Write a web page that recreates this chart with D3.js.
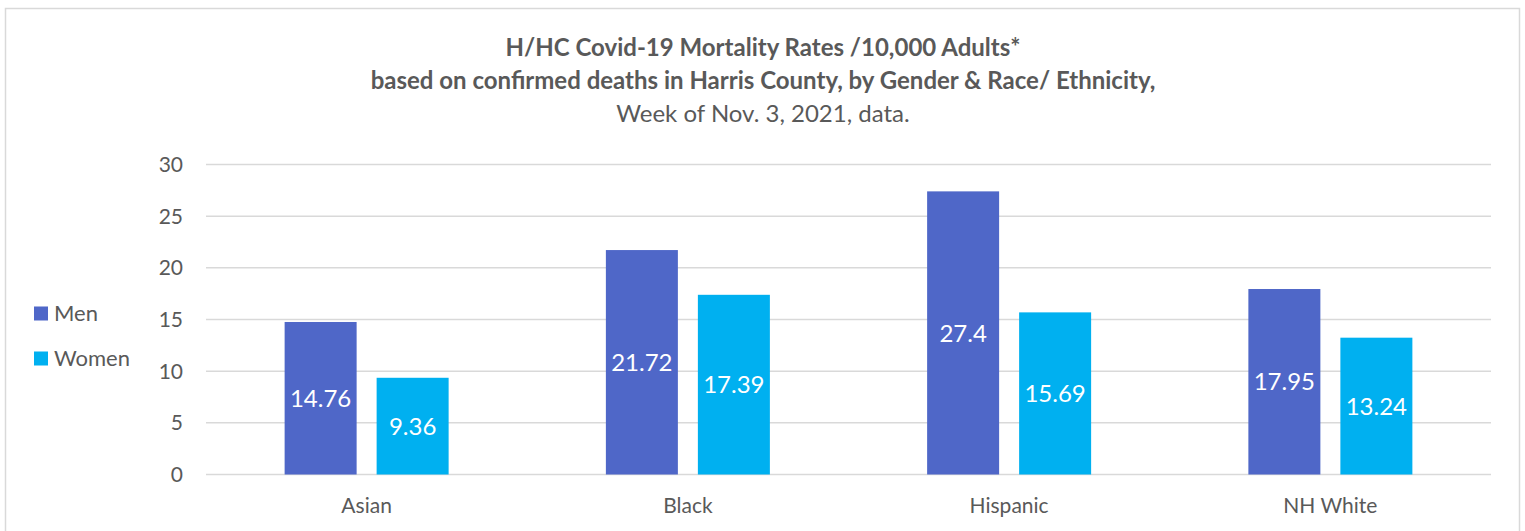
<!DOCTYPE html>
<html><head><meta charset="utf-8">
<script src="https://cdn.jsdelivr.net/npm/d3@7"></script>
<style>body{margin:0;background:#fff}svg{display:block}</style>
</head><body>
<script>
const categories = ["Asian", "Black", "Hispanic", "NH White"];
const seriesNames = ["Men", "Women"];
const men = [14.76, 21.72, 27.4, 17.95];
const women = [9.36, 17.39, 15.69, 13.24];
const yTicks = [0, 5, 10, 15, 20, 25, 30];
const titleLines = ["H/HC Covid-19 Mortality Rates /10,000 Adults*",
  "based on confirmed deaths in Harris County, by Gender & Race/ Ethnicity,",
  "Week of Nov. 3, 2021, data."];
const colors = ["#4F67C8", "#00B0F0"];
const series = [men, women];

const W = 1525, H = 531;
const font = "Lato, 'Open Sans', sans-serif";
const svg = d3.select("body").append("svg").attr("width", W).attr("height", H);

svg.append("rect").attr("x", 5.5).attr("y", 8.5).attr("width", 1514).attr("height", 540)
  .attr("fill", "#fff").attr("stroke", "#d9d9d9").attr("stroke-width", 1.5);

const x0 = d3.scaleBand().domain(categories).range([206, 1491]);
const y = d3.scaleLinear().domain([0, 30]).range([474.5, 164.5]);
const bw = 72, gap = 20;

// gridlines
svg.append("g").selectAll("line").data(yTicks).join("line")
  .attr("x1", 206).attr("x2", 1491)
  .attr("y1", d => y(d)).attr("y2", d => y(d))
  .attr("stroke", "#d9d9d9").attr("stroke-width", 1.5);

// y labels
svg.append("g").selectAll("text").data(yTicks).join("text")
  .attr("x", 183).attr("y", d => y(d)).attr("dy", "0.35em")
  .attr("text-anchor", "end").attr("font-family", font).attr("font-size", 21)
  .attr("fill", "#595959").text(d => d);

// bars
series.forEach((vals, si) => {
  const g = svg.append("g");
  const xpos = (c) => x0(c) + x0.bandwidth() / 2 + (si === 0 ? -(gap / 2 + bw) : gap / 2);
  g.selectAll("rect").data(categories).join("rect")
    .attr("x", c => xpos(c)).attr("width", bw)
    .attr("y", (c, i) => y(vals[i])).attr("height", (c, i) => y(0) - y(vals[i]))
    .attr("fill", colors[si]);
  g.selectAll("text").data(categories).join("text")
    .attr("x", c => xpos(c) + bw / 2)
    .attr("y", (c, i) => (y(vals[i]) + y(0)) / 2).attr("dy", "0.36em")
    .attr("text-anchor", "middle").attr("font-family", font).attr("font-size", 24)
    .attr("fill", "#fff").text((c, i) => vals[i]);
});

// category labels
svg.append("g").selectAll("text").data(categories).join("text")
  .attr("x", c => x0(c) + x0.bandwidth() / 2).attr("y", 513)
  .attr("text-anchor", "middle").attr("font-family", font).attr("font-size", 21)
  .attr("fill", "#595959").text(c => c);

// title
const tt = svg.append("text").attr("text-anchor", "middle").attr("font-family", font).attr("fill", "#595959");
titleLines.forEach((t, i) => {
  tt.append("tspan").attr("x", 763).attr("y", [56, 89, 122][i])
    .attr("font-size", 24).attr("font-weight", i < 2 ? "bold" : "normal").text(t);
});

// legend
seriesNames.forEach((n, i) => {
  const ly = [313.5, 358.5][i];
  svg.append("rect").attr("x", 34).attr("y", ly - 7).attr("width", 14).attr("height", 14).attr("fill", colors[i]);
  svg.append("text").attr("x", 54).attr("y", ly).attr("dy", "0.35em")
    .attr("font-family", font).attr("font-size", 22).attr("fill", "#595959").text(n);
});
</script>
</body></html>
